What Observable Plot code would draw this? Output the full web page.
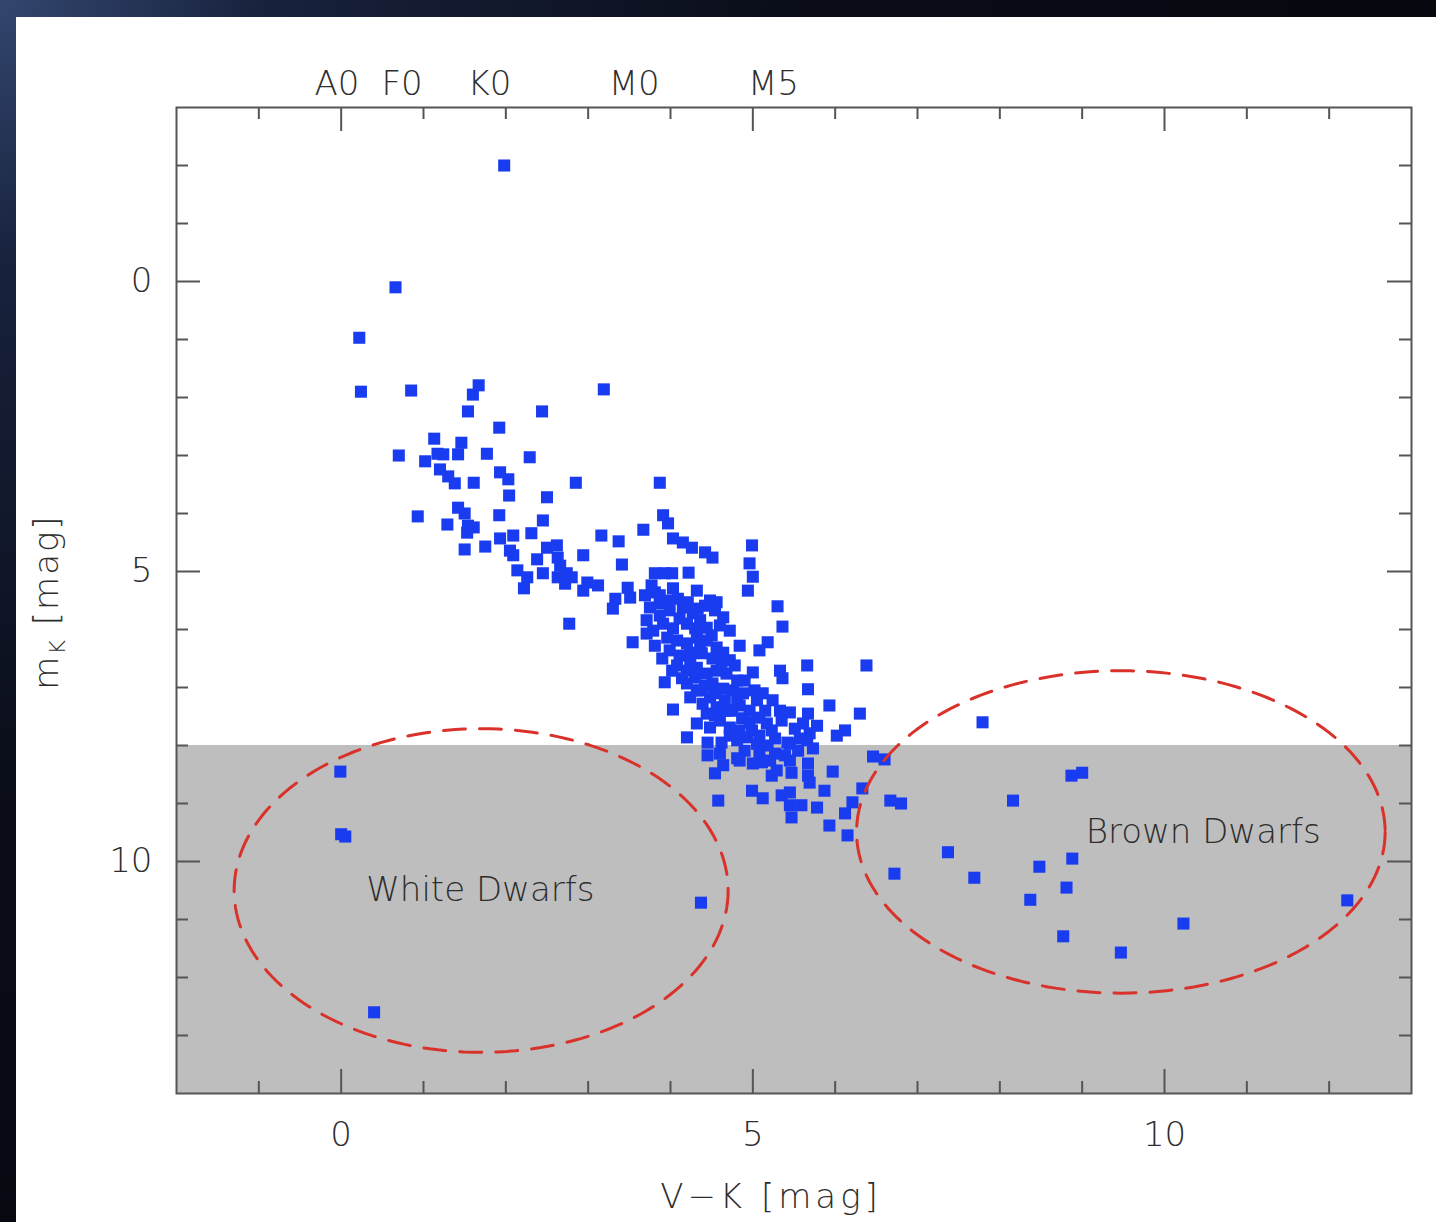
<!DOCTYPE html>
<html><head><meta charset="utf-8">
<script src="https://cdn.jsdelivr.net/npm/d3@7"></script>
<script src="https://cdn.jsdelivr.net/npm/@observablehq/plot@0.6"></script>
<style>
html,body{margin:0;padding:0;}
body{width:1436px;height:1222px;overflow:hidden;position:relative;
  background:radial-gradient(circle at 0 0,#33466f 0,#18223d 260px,#0a0d18 800px,#06080f 1400px);}
#panel{position:absolute;left:16px;top:17px;width:1420px;height:1205px;background:#fff;}
</style></head><body><div id="panel"></div>
<script>
// ---- data ----
const mainVK = [1.98,0.66,0.22,0.24,0.85,1.67,1.60,1.54,2.44,3.19,1.92,1.13,1.46,0.70,1.02,1.17,1.24,1.42,1.77,2.29,
1.20,1.30,1.38,1.61,1.93,2.03,2.04,2.50,0.93,1.42,1.50,1.54,1.61,1.53,1.29,1.92,2.45,2.31,2.09,1.93,
1.75,1.50,2.05,2.09,2.38,2.50,2.62,2.14,2.26,2.45,2.22,2.63,2.63,2.85,3.87,3.91,3.97,3.67,3.16,3.37,
4.03,4.15,4.26,4.42,4.51,2.94,3.41,2.66,2.74,2.72,2.80,2.99,3.12,2.94,3.48,3.51,3.33,3.30,3.81,3.93,
4.02,4.22,4.03,4.32,2.77,3.54,4.99,4.96,5.00,4.94,5.30,5.36,5.18,5.08,4.84,5.66,6.38,5.33,5.36,5.67,
3.93,4.03,5.93,6.30,5.67,5.78,5.69,5.57,6.12,6.02,5.45,5.73,4.20,4.45,4.62,4.45,4.60,4.64,4.54,4.81,
5.00,5.11,5.27,5.39,5.42,5.23,5.29,5.47,5.67,5.67,5.69,5.97,6.46,6.60,4.99,5.12,5.35,5.45,5.45,5.59,
5.78,5.87,6.33,6.21,6.12,5.47,4.58,5.93,6.15,6.67,6.80];
const mainMK = [-2.00,0.10,0.97,1.90,1.88,1.79,1.95,2.24,2.24,1.86,2.52,2.71,2.78,3.00,3.10,2.97,2.98,2.98,2.97,3.03,
3.24,3.36,3.48,3.47,3.29,3.41,3.69,3.72,4.05,3.90,4.00,4.21,4.24,4.33,4.19,4.03,4.12,4.34,4.38,4.43,
4.57,4.62,4.64,4.72,4.79,4.59,4.55,4.98,5.10,5.03,5.29,4.76,5.10,3.47,3.47,4.03,4.17,4.28,4.38,4.48,
4.43,4.50,4.59,4.67,4.76,4.72,4.88,4.90,5.03,5.21,5.10,5.19,5.24,5.33,5.28,5.45,5.47,5.64,5.03,5.03,
5.03,5.02,5.29,5.33,5.90,6.22,4.55,4.86,5.09,5.33,5.60,5.95,6.22,6.36,6.28,6.62,6.62,6.71,6.84,7.03,
6.91,7.38,7.31,7.45,7.45,7.66,7.79,7.88,7.74,7.83,7.97,8.05,7.86,7.95,7.95,8.17,8.14,8.34,8.48,8.22,
8.31,8.29,8.14,8.17,7.95,8.52,8.43,8.47,8.31,8.52,8.64,8.45,8.19,8.24,8.78,8.91,8.86,8.81,9.03,9.03,
9.07,8.78,8.74,8.98,9.17,9.24,8.95,9.38,9.55,8.95,9.00];
const coreVK = [3.81,4.48,4.56,3.75,3.87,3.99,4.15,4.27,4.64,4.72,3.71,3.79,3.71,3.91,4.03,4.20,4.36,4.44,3.96,4.08,
4.20,4.32,4.44,4.56,3.99,4.11,4.24,4.38,4.51,4.64,4.72,4.08,4.20,4.32,4.44,4.56,4.68,4.81,5.00,4.20,
4.32,4.24,4.51,4.64,4.48,4.76,4.88,4.81,5.12,5.24,4.39,4.56,4.44,4.68,4.84,4.96,5.05,5.33,5.45,4.32,
4.48,4.60,4.72,4.84,4.96,5.08,5.17,4.81,4.93,5.05,5.61,5.66];
const coreMK = [5.36,5.50,5.53,5.62,5.55,5.67,5.62,5.72,5.79,6.02,5.84,6.02,6.07,5.90,5.98,5.90,5.84,5.97,6.14,6.19,
6.24,6.14,6.19,6.31,6.36,6.45,6.53,6.41,6.50,6.40,6.53,6.62,6.71,6.66,6.76,6.71,6.76,6.88,6.74,6.93,
7.05,7.17,6.93,7.02,7.17,7.05,7.10,7.22,7.10,7.22,7.28,7.34,7.45,7.40,7.31,7.40,7.22,7.40,7.43,7.62,
7.69,7.57,7.69,7.74,7.60,7.52,7.62,7.91,7.86,7.97,7.62,7.91];
const coreFillVK = [3.69,3.77,3.87,3.97,4.09,4.21,4.33,4.42,4.54,4.60,4.50,4.30,4.11,3.87,3.81,3.90,4.02,4.14,4.30,4.42,
4.54,4.66,4.75,4.87,4.99,5.08,5.18,5.27,5.15,5.02,4.90,4.78,4.62,4.36,4.24,4.36,4.54,4.72,4.90,5.08,
4.84,5.21,5.45,5.55,5.23,5.35,5.51];
const coreFillMK = [5.41,5.24,5.41,5.50,5.47,5.53,5.64,5.59,5.67,5.93,6.10,5.98,5.81,5.76,6.28,6.50,6.71,6.84,6.83,6.97,
7.10,7.22,7.40,7.53,7.74,7.83,8.00,7.88,7.40,7.05,6.88,6.62,6.57,6.28,6.40,7.05,7.48,7.83,8.09,8.12,
8.26,8.26,8.26,8.09,7.74,7.57,7.71];
const brownVK = [7.79,8.87,9.00,8.16,7.37,6.72,7.69,8.48,8.88,8.81,8.37,8.77,9.47,10.23,12.22];
const brownMK = [7.60,8.52,8.47,8.95,9.84,10.21,10.28,10.09,9.95,10.45,10.66,11.29,11.57,11.07,10.67];
const whiteVK = [-0.01,0.00,0.05,4.37,0.40];
const whiteMK = [8.45,9.53,9.57,10.71,12.60];

const xDomain = [-2, 13];
const yDomain = [-3, 14];
const limitMag = 8;
const majorTicks = [0, 5, 10];
const minorX = [-1,1,2,3,4,6,7,8,9,11,12];
const minorY = [-2,-1,1,2,3,4,6,7,8,9,11,12,13];
const spectralTypes = ["A0","F0","K0","M0","M5"];
const spectralVK = [-0.05, 0.74, 1.80, 3.56, 5.25];
const regionNames = ["White Dwarfs","Brown Dwarfs"];
const ellipseCX = [1.70, 9.47];
const ellipseCY = [10.50, 9.49];
const ellipseRX = [3.00, 3.21];
const ellipseRY = [2.79, 2.78];
const labelVK = [1.69, 10.47];
const labelMK = [10.50, 9.50];

// ---- build ----
const pairs = (xs, ys) => xs.map((v,i) => ({vk: v, mk: ys[i]}));
const stars = [
  ...pairs(mainVK, mainMK), ...pairs(coreVK, coreMK), ...pairs(coreFillVK, coreFillMK),
  ...pairs(brownVK, brownMK), ...pairs(whiteVK, whiteMK)
];
const ellipsePts = regionNames.flatMap((name,k) => d3.range(0, 361, 2).map(a => ({
  name, x: ellipseCX[k] + ellipseRX[k]*Math.cos(a*Math.PI/180),
  y: ellipseCY[k] + ellipseRY[k]*Math.sin(a*Math.PI/180)})));

const W = 1420, H = 1205, ML = 160, MR = 25, MT = 90, MB = 129;
const FW = W - ML - MR, FH = H - MT - MB;
const tickStyle = {stroke: "#555", strokeWidth: 2};
const ink = "#2e2e2e";
const font = {fontSize: 34, fontWeight: 300};

const chart = Plot.plot({
  width: W, height: H,
  marginLeft: ML, marginRight: MR, marginTop: MT, marginBottom: MB,
  style: {fontFamily: "'DejaVu Sans', sans-serif", fontSize: "34px", color: ink, background: "transparent"},
  x: {domain: xDomain},
  y: {domain: yDomain, reverse: true},
  marks: [
    Plot.rect([limitMag], {x1: xDomain[0], x2: xDomain[1], y1: d => d, y2: yDomain[1], fill: "#bebebe"}),
    Plot.dot(stars, {x: "vk", y: "mk", symbol: "square", r: 6.8, fill: "#1a3cf0"}),
    Plot.line(ellipsePts, {x: "x", y: "y", z: "name", stroke: "#d9322b", strokeWidth: 3, strokeDasharray: "22,14"}),
    Plot.text(regionNames, {x: (d,i) => labelVK[i], y: (d,i) => labelMK[i], text: d => d, fill: ink, ...font}),
    Plot.tickX(minorX, {x: d => d, insetTop: FH - 12, ...tickStyle}),
    Plot.tickX(majorTicks, {x: d => d, insetTop: FH - 24, ...tickStyle}),
    Plot.tickX(minorX, {x: d => d, insetBottom: FH - 12, ...tickStyle}),
    Plot.tickX(majorTicks, {x: d => d, insetBottom: FH - 24, ...tickStyle}),
    Plot.tickY(minorY, {y: d => d, insetRight: FW - 12, ...tickStyle}),
    Plot.tickY(majorTicks, {y: d => d, insetRight: FW - 24, ...tickStyle}),
    Plot.tickY(minorY, {y: d => d, insetLeft: FW - 12, ...tickStyle}),
    Plot.tickY(majorTicks, {y: d => d, insetLeft: FW - 24, ...tickStyle}),
    Plot.frame({stroke: "#555", strokeWidth: 2}),
    Plot.axisX({anchor: "bottom", ticks: majorTicks, tickSize: 0, tickPadding: 28, label: null, ...font}),
    Plot.axisX({anchor: "top", ticks: spectralVK, tickFormat: d => spectralTypes[spectralVK.indexOf(d)], tickSize: 0, tickPadding: 13, label: null, ...font}),
    Plot.axisY({anchor: "left", ticks: majorTicks, tickSize: 0, tickPadding: 24, label: null, ...font})
  ]
});

const svg = d3.select(chart);
svg.append("text").attr("x", 755).attr("y", 1191).attr("text-anchor", "middle")
  .attr("font-size", 34).attr("font-weight", 300).attr("fill", ink).attr("letter-spacing", 4).text("V−K [mag]");
const yl = svg.append("text").attr("transform", "translate(42,585) rotate(-90)").attr("text-anchor", "middle")
  .attr("font-size", 34).attr("font-weight", 300).attr("fill", ink).attr("letter-spacing", 2);
yl.append("tspan").text("m");
yl.append("tspan").attr("font-size", 22).attr("dy", 7).text("K");
yl.append("tspan").attr("dy", -7).text(" [mag]");

document.getElementById("panel").appendChild(chart);
</script></body></html>
